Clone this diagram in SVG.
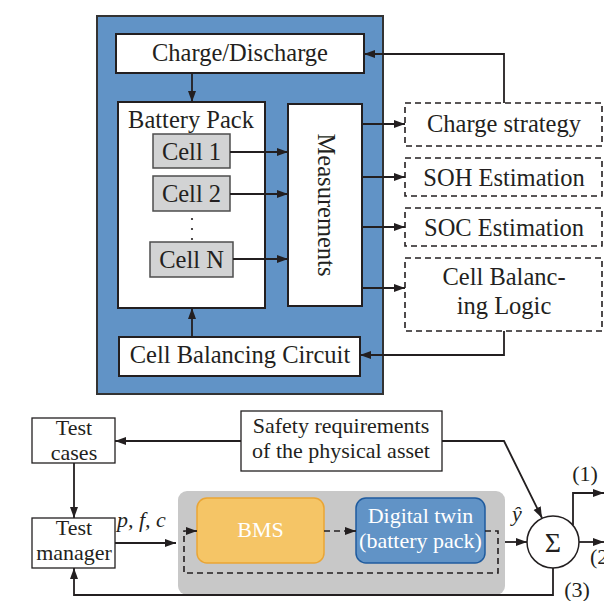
<svg xmlns="http://www.w3.org/2000/svg" width="604" height="601" viewBox="0 0 604 601">
<defs>
<marker id="ah" markerWidth="12" markerHeight="10" refX="11" refY="5" orient="auto" markerUnits="userSpaceOnUse">
<path d="M0,1 L11,5 L0,9 Z" fill="#231f20"/>
</marker>
<style>
text{font-family:"Liberation Serif","Times New Roman",serif;fill:#231f20;}
.t24{font-size:24.5px;}
.t22{font-size:22px;}
.wb{fill:#fff;stroke:#231f20;stroke-width:2;}
.cell{fill:#d2d3d4;stroke:#4d4d4d;stroke-width:1.5;}
.dash{fill:#fff;stroke:#231f20;stroke-width:1.6;stroke-dasharray:6,4;}
.sb{fill:#fff;stroke:#231f20;stroke-width:1.3;}
.ln{fill:none;stroke:#231f20;stroke-width:1.8;}
.ar{fill:none;stroke:#231f20;stroke-width:1.8;marker-end:url(#ah);}
.dl{fill:none;stroke:#231f20;stroke-width:1.6;stroke-dasharray:6,4;}
.wt{fill:#fff;}
.it{font-style:italic;}
</style>
</defs>
<rect id="panel" x="97" y="16" width="286" height="378" fill="#6193c6" stroke="#333" stroke-width="2"/>
<g id="chargeDischarge"><rect class="wb" x="116" y="34" width="248" height="39"/><text class="t24" x="240" y="61" text-anchor="middle">Charge/Discharge</text></g>
<g id="batteryPack"><rect class="wb" x="118" y="102" width="147" height="206"/><text class="t24" x="191" y="128" text-anchor="middle">Battery Pack</text></g>
<g id="cell1"><rect class="cell" x="153" y="134" width="77" height="34"/><text class="t24" x="191.5" y="160" text-anchor="middle">Cell 1</text></g>
<g id="cell2"><rect class="cell" x="153" y="176" width="77" height="35"/><text class="t24" x="191.5" y="202" text-anchor="middle">Cell 2</text></g>
<g id="dots"><circle cx="192" cy="219" r="1.1" fill="#231f20"/><circle cx="192" cy="229" r="1.1" fill="#231f20"/><circle cx="192" cy="239" r="1.1" fill="#231f20"/></g>
<g id="cellN"><rect class="cell" x="150" y="242" width="83" height="35"/><text class="t24" x="191.5" y="268" text-anchor="middle">Cell N</text></g>
<g id="measurements"><rect class="wb" x="288" y="104" width="74" height="202"/><text class="t24" transform="translate(318,205) rotate(90)" text-anchor="middle">Measurements</text></g>
<g id="cellBalancingCircuit"><rect class="wb" x="119" y="337" width="241" height="39"/><text class="t24" x="240" y="363" text-anchor="middle">Cell Balancing Circuit</text></g>
<g id="chargeStrategy"><rect class="dash" x="405" y="103" width="197" height="43"/><text class="t24" x="504" y="132" text-anchor="middle">Charge strategy</text></g>
<g id="sohEstimation"><rect class="dash" x="405" y="158" width="197" height="38"/><text class="t24" x="504" y="186" text-anchor="middle">SOH Estimation</text></g>
<g id="socEstimation"><rect class="dash" x="405" y="208" width="197" height="38"/><text class="t24" x="504" y="236" text-anchor="middle">SOC Estimation</text></g>
<g id="cellBalancingLogic"><rect class="dash" x="405" y="258" width="197" height="73"/><text class="t24" x="504" y="285" text-anchor="middle">Cell Balanc-</text><text class="t24" x="504" y="314" text-anchor="middle">ing Logic</text></g>

<g id="testCases"><rect class="sb" x="32" y="418" width="83" height="45"/><text class="t22" x="74" y="435" text-anchor="middle">Test</text><text class="t22" x="74" y="460" text-anchor="middle">cases</text></g>
<g id="testManager"><rect class="sb" x="32" y="518" width="83" height="50"/><text class="t22" x="74" y="535" text-anchor="middle">Test</text><text class="t22" x="74" y="560" text-anchor="middle">manager</text></g>
<g id="safety"><rect class="sb" x="241" y="411" width="201" height="60"/><text class="t22" x="341" y="433" text-anchor="middle">Safety requirements</text><text class="t22" x="341" y="458" text-anchor="middle">of the physical asset</text></g>
<g id="dtContainer"><rect x="178" y="491" width="327" height="104" rx="9" fill="#c8c8c8"/></g>
<g id="bms"><rect x="197" y="498" width="127" height="65" rx="10" fill="#f5c566" stroke="#eaa535" stroke-width="1.5"/><text class="t22 wt" x="260.5" y="537" text-anchor="middle">BMS</text></g>
<g id="digitalTwin"><rect x="356" y="498" width="129" height="65" rx="10" fill="#6193c6" stroke="#1f5b9e" stroke-width="1.5"/><text class="t22 wt" x="420.5" y="523" text-anchor="middle">Digital twin</text><text class="t22 wt" x="420.5" y="548" text-anchor="middle">(battery pack)</text></g>
<g id="sum"><circle cx="553" cy="542" r="26" fill="#fff" stroke="#231f20" stroke-width="1.5"/><text x="553" y="552" font-size="28" text-anchor="middle">Σ</text></g>

<g id="connectors">
<line class="ar" x1="192" y1="73" x2="192" y2="102"/>
<line class="ar" x1="192" y1="337" x2="192" y2="308"/>
<line class="ar" x1="230" y1="152" x2="288" y2="152"/>
<line class="ar" x1="230" y1="194" x2="288" y2="194"/>
<line class="ar" x1="233" y1="259" x2="288" y2="259"/>
<line class="ar" x1="362" y1="124" x2="405" y2="124"/>
<line class="ar" x1="362" y1="177" x2="405" y2="177"/>
<line class="ar" x1="362" y1="227" x2="405" y2="227"/>
<line class="ar" x1="362" y1="288" x2="405" y2="288"/>
<polyline class="ar" points="504,103 504,54 364,54"/>
<polyline class="ar" points="504,331 504,355 360,355"/>
<line class="ar" x1="241" y1="441" x2="115" y2="441"/>
<line class="ar" x1="74" y1="463" x2="74" y2="518"/>
<line class="ar" x1="115" y1="543" x2="176" y2="543"/>
<polyline class="ar" points="442,441 504,441 542,518"/>
<line class="ar" x1="505" y1="542" x2="527" y2="542"/>
<polyline class="ar" points="573,525 573,493 604,493"/>
<line class="ar" x1="579" y1="542" x2="604" y2="542"/>
<polyline class="ar" points="553,568 553,595 74,595 74,568"/>
<line class="dl" x1="324" y1="531" x2="350" y2="531"/>
<path class="ar" d="M350,531 L356,531" stroke-width="1.6"/>
<polyline class="dl" points="485,531 498,531 498,573 184,573 184,531 190,531"/>
<path class="ar" d="M190,531 L197,531" stroke-width="1.6"/>
</g>
<text class="t22 it" x="117" y="527">p, f, c</text>
<text class="t22 it" x="517" y="521" text-anchor="middle">ŷ</text>
<text class="t22" x="585" y="481" text-anchor="middle">(1)</text>
<text class="t22" x="590" y="564">(2</text>
<text class="t22" x="577" y="597" text-anchor="middle">(3)</text>
</svg>
